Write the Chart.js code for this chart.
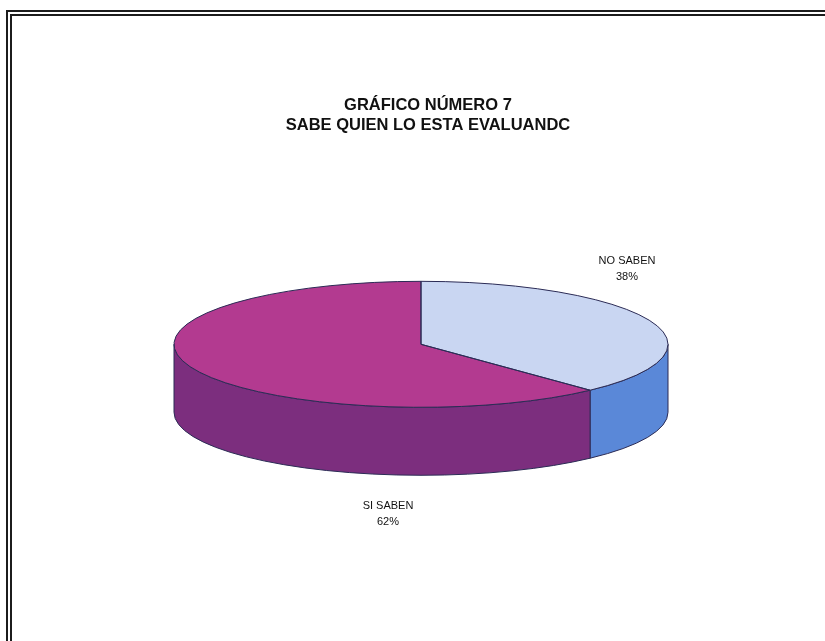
<!DOCTYPE html>
<html>
<head>
<meta charset="utf-8">
<script src="https://cdn.jsdelivr.net/npm/chart.js@4.4.1/dist/chart.umd.min.js"></script>
<style>
  html, body { margin: 0; padding: 0; background: #fff; }
  #wrap { position: relative; width: 825px; height: 641px; overflow: hidden; }
  #wrap canvas { position: absolute; left: 0; top: 0; }
  #frame {
    position: absolute; left: 6px; top: 10px; width: 900px; height: 700px;
    border-top: 6px double #1c1c1c; border-left: 6px double #1c1c1c;
  }
</style>
</head>
<body>
<div id="wrap">
  <canvas id="pieChart" width="825" height="641"></canvas>
  <div id="frame"></div>
</div>
<script>
const categories = ['NO SABEN', 'SI SABEN'];
const percents = [38, 62];
const titleLines = ['GRÁFICO NÚMERO 7', 'SABE QUIEN LO ESTA EVALUANDC'];

const topColors = ['#c9d6f2', '#b33a90'];
const sideColors = ['#5a88d8', '#7c2e7e'];
const edgeColor = '#2b2b55';

// fake 3D: squash the pie into an ellipse and extrude the front rim
const tilt = 0.255;
const depth = 68;
const shiftX = -7;
// label anchors, relative to the centre of the top face
const labelOffsets = [[206, -83], [-33, 162]];

function pieGeom(chart) {
  const meta = chart.getDatasetMeta(0);
  const p = meta.data[0].getProps(['x', 'y', 'outerRadius'], true);
  return { meta, x: p.x, y: p.y, cx: p.x + shiftX, rx: p.outerRadius, ry: p.outerRadius * tilt };
}

const pie3d = {
  id: 'pie3d',
  beforeDatasetsDraw(chart) {
    const ctx = chart.ctx;
    const g = pieGeom(chart);
    ctx.save();
    ctx.lineWidth = 1;
    ctx.strokeStyle = edgeColor;
    g.meta.data.forEach((arc, i) => {
      const { startAngle, endAngle } = arc.getProps(['startAngle', 'endAngle'], true);
      const a0 = Math.max(startAngle, 0);
      const a1 = Math.min(endAngle, Math.PI);
      if (a1 <= a0) return;
      ctx.beginPath();
      ctx.ellipse(g.cx, g.y, g.rx, g.ry, 0, a0, a1);
      ctx.ellipse(g.cx, g.y + depth, g.rx, g.ry, 0, a1, a0, true);
      ctx.closePath();
      ctx.fillStyle = sideColors[i];
      ctx.fill();
      ctx.stroke();
    });
    ctx.restore();
    // the library draws the top face inside this squashed transform
    ctx.save();
    ctx.translate(g.cx, g.y);
    ctx.scale(1, tilt);
    ctx.translate(-g.x, -g.y);
  },
  afterDatasetsDraw(chart) {
    const ctx = chart.ctx;
    ctx.restore();
    const g = pieGeom(chart);
    ctx.save();
    ctx.lineWidth = 1;
    ctx.strokeStyle = edgeColor;
    g.meta.data.forEach(arc => {
      const { startAngle, endAngle } = arc.getProps(['startAngle', 'endAngle'], true);
      ctx.beginPath();
      ctx.moveTo(g.cx, g.y);
      ctx.ellipse(g.cx, g.y, g.rx, g.ry, 0, startAngle, endAngle);
      ctx.closePath();
      ctx.stroke();
    });
    ctx.restore();
  },
  afterDraw(chart) {
    const ctx = chart.ctx;
    const g = pieGeom(chart);
    ctx.save();
    ctx.font = '11px "Liberation Sans", Arial, sans-serif';
    ctx.fillStyle = '#111';
    ctx.textAlign = 'center';
    ctx.textBaseline = 'middle';
    categories.forEach((name, i) => {
      const lx = g.cx + labelOffsets[i][0];
      const ly = g.y + labelOffsets[i][1];
      ctx.fillText(name, lx, ly);
      ctx.fillText(percents[i] + '%', lx, ly + 16);
    });
    ctx.restore();
  }
};

new Chart(document.getElementById('pieChart'), {
  type: 'pie',
  data: {
    labels: categories,
    datasets: [{
      data: percents,
      backgroundColor: topColors,
      borderWidth: 0
    }]
  },
  options: {
    responsive: false,
    animation: false,
    radius: 247,
    layout: { padding: { left: 31, right: 0, top: 96, bottom: 88 } },
    plugins: {
      legend: { display: false },
      tooltip: { enabled: false },
      title: {
        display: true,
        text: titleLines,
        color: '#111',
        font: { family: '"Liberation Sans", Arial, sans-serif', size: 16.5, weight: 'bold', lineHeight: 1.2 },
        padding: { top: 0, bottom: 0 }
      }
    }
  },
  plugins: [pie3d]
});
</script>
</body>
</html>
